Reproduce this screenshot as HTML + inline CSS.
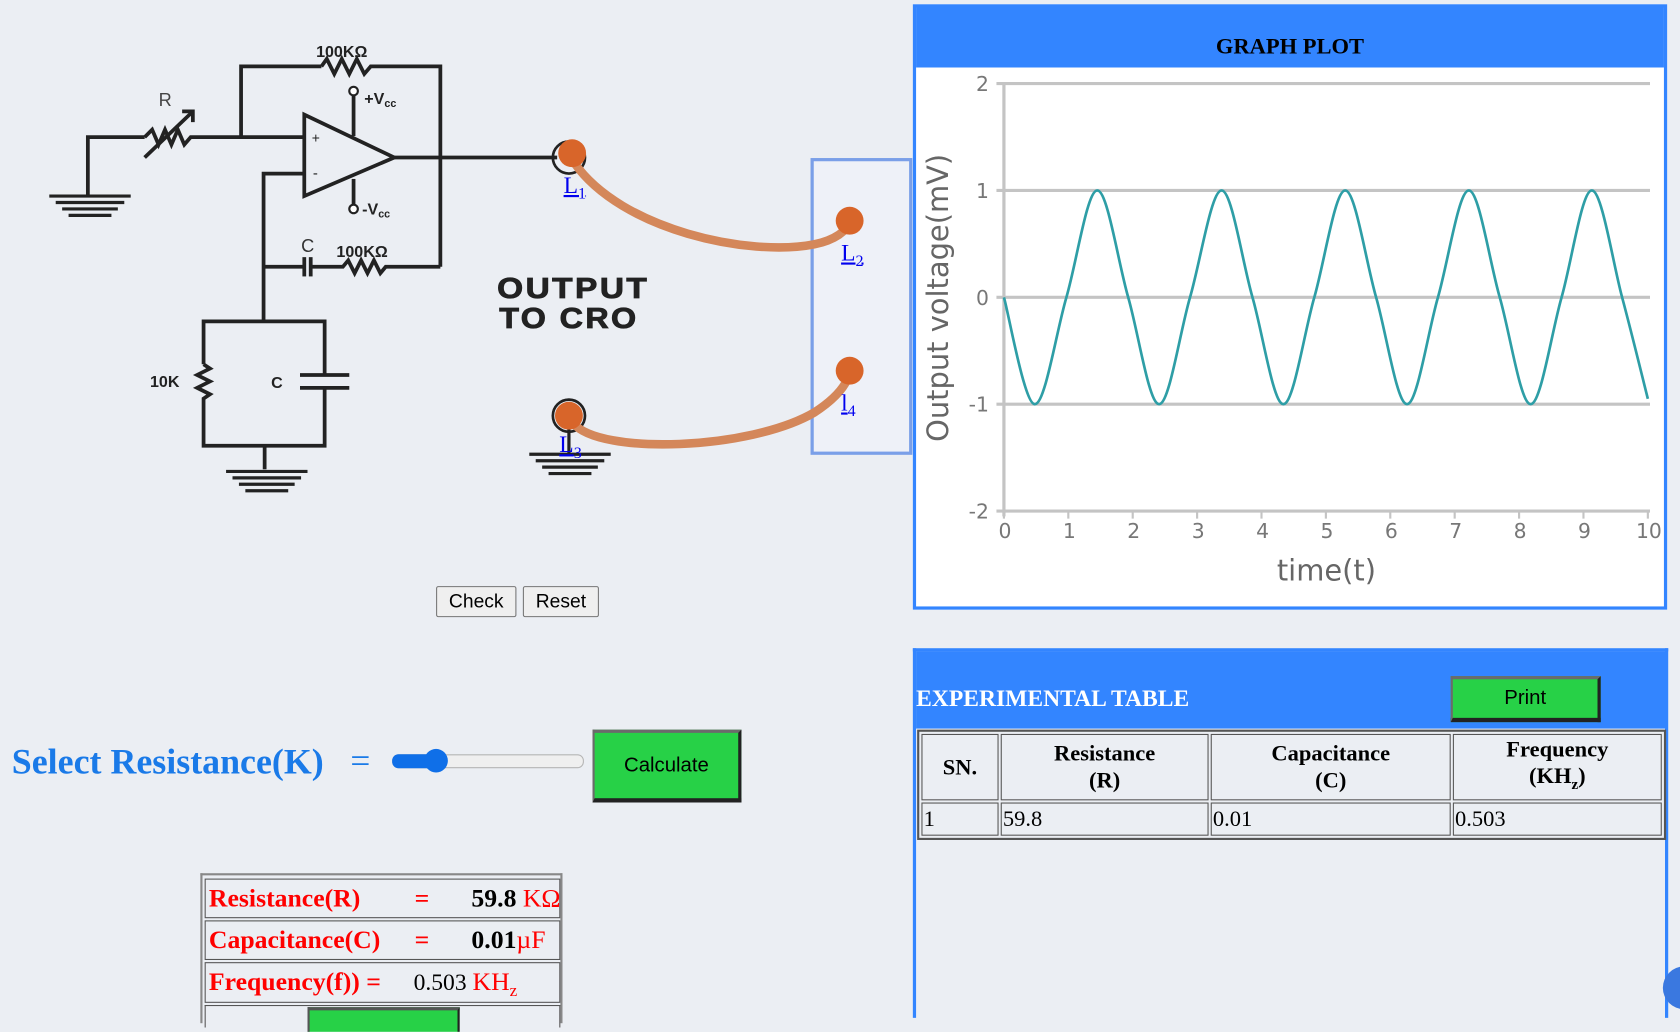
<!DOCTYPE html>
<html><head><meta charset="utf-8">
<style>
html,body{margin:0;padding:0;width:1680px;height:1014px;overflow:hidden;background:#ebeef3;}
#wrap{position:absolute;left:0;top:0;width:1568px;height:946px;transform:scale(1.07143);transform-origin:0 0;font-family:"Liberation Serif",serif;}
.abs{position:absolute;}
.btn{position:absolute;background:#efefef;border:1px solid #767676;border-radius:2px;font-family:"Liberation Sans",sans-serif;font-size:18px;text-align:center;box-sizing:border-box;line-height:27px;}
.green{position:absolute;background:#27d147;border-top:3px solid #6b6b6b;border-left:2px solid #6b6b6b;border-right:3px solid #222;border-bottom:4px solid #222;box-sizing:border-box;font-family:"Liberation Sans",sans-serif;font-size:19px;text-align:center;}
.lbl{position:absolute;color:#0000ee;text-decoration:underline;font-size:22px;font-family:"Liberation Serif",serif;}
.lbl sub{font-size:15px;}
.row{position:absolute;left:2px;width:330px;border:1px solid #555;color:red;font-weight:bold;font-size:24px;line-height:36px;white-space:nowrap;overflow:hidden;}
table{border-collapse:separate;}
</style></head><body>
<div id="wrap">

<svg class="abs" style="left:0;top:0" width="860" height="480">
<g stroke="#222" stroke-width="3.5" fill="none">
<polyline points="82,182 82,128 135,128"/>
<polyline points="135,128 142,121 148,135 154,121 160,135 166,121 172,135 178,128 284,128"/>
<line x1="135" y1="147" x2="180" y2="104"/><polyline points="170,104 180,104 180,114"/>
<polyline points="225,128 225,62 300,62"/>
<polyline points="300,62 305,55 312,69 319,55 326,69 333,55 340,69 346,62 411,62 411,249"/>
<polygon points="284,107 284,183 368,147"/>
<line x1="368" y1="147" x2="520" y2="147"/>
<line x1="330" y1="88" x2="330" y2="127"/><line x1="330" y1="167" x2="330" y2="192"/>
<polyline points="284,162 246,162 246,300"/>
<polyline points="246,249 284,249"/><line x1="284" y1="240" x2="284" y2="258"/><line x1="290" y1="240" x2="290" y2="258"/>
<polyline points="290,249 320,249 325,243 331,255 337,243 343,255 349,243 355,255 360,249 411,249"/>
<polyline points="190,340 190,300 303,300 303,350"/>
<polyline points="190,340 196,344 184,350 196,356 184,362 196,368 190,372 190,416 303,416 303,362"/>
<line x1="280" y1="350" x2="326" y2="350"/><line x1="280" y1="362" x2="326" y2="362"/>
<line x1="247" y1="416" x2="247" y2="438"/>
</g>
<g stroke="#222" stroke-width="3">
<line x1="46" y1="183" x2="122" y2="183"/><line x1="52" y1="189" x2="116" y2="189"/><line x1="58" y1="195" x2="110" y2="195"/><line x1="64" y1="201" x2="104" y2="201"/>
<line x1="211" y1="440" x2="287" y2="440"/><line x1="217" y1="446" x2="281" y2="446"/><line x1="223" y1="452" x2="275" y2="452"/><line x1="229" y1="458" x2="269" y2="458"/>
<line x1="494" y1="424" x2="570" y2="424"/><line x1="500" y1="430" x2="564" y2="430"/><line x1="506" y1="436" x2="558" y2="436"/><line x1="512" y1="442" x2="552" y2="442"/>
<line x1="531" y1="395" x2="531" y2="424"/>
</g>
<circle cx="330" cy="85" r="4" fill="#fff" stroke="#222" stroke-width="2"/>
<circle cx="330" cy="195" r="4" fill="#fff" stroke="#222" stroke-width="2"/>
<g font-family="Liberation Sans, sans-serif" font-weight="bold" fill="#222" font-size="15">
<text x="295" y="53">100KΩ</text><text x="314" y="240">100KΩ</text>
<text x="340" y="97">+V<tspan font-size="10" dy="3">cc</tspan></text>
<text x="338" y="200">-V<tspan font-size="10" dy="3">cc</tspan></text>
<text x="140" y="361">10K</text><text x="253" y="362">C</text>
</g>
<text x="148" y="99" font-family="Liberation Sans, sans-serif" font-size="17" fill="#444">R</text>
<text x="281" y="235" font-family="Liberation Sans, sans-serif" font-size="17" fill="#333">C</text>
<text x="291" y="133" font-family="Liberation Sans, sans-serif" font-size="13" fill="#222">+</text>
<text x="292" y="166" font-family="Liberation Sans, sans-serif" font-size="14" fill="#222">-</text>
<g font-family="Liberation Sans, sans-serif" font-weight="bold" font-size="27" fill="#222" stroke="#222" stroke-width="0.8" letter-spacing="2">
<text x="464" y="278" textLength="142" lengthAdjust="spacingAndGlyphs">OUTPUT</text><text x="466" y="306" textLength="130" lengthAdjust="spacingAndGlyphs">TO CRO</text></g>
<rect x="758" y="149" width="92" height="274" fill="#eef1f8" stroke="#7a9fe8" stroke-width="3"/>
<circle cx="531" cy="147" r="15" fill="none" stroke="#222" stroke-width="2.5"/>
<circle cx="531" cy="388" r="15" fill="none" stroke="#222" stroke-width="2.5"/>
<path d="M536,152 C580,215 700,240 760,228 C780,224 790,215 793,208" stroke="#d4875a" stroke-width="8" fill="none" stroke-linecap="round"/>
<path d="M535,395 C560,425 700,420 760,385 C780,372 790,360 793,348" stroke="#d4875a" stroke-width="8" fill="none" stroke-linecap="round"/>
<circle cx="534" cy="143" r="13" fill="#d8652a"/>
<circle cx="793" cy="206" r="13" fill="#d8652a"/>
<circle cx="793" cy="346" r="13" fill="#d8652a"/>
<circle cx="531" cy="388" r="13" fill="#d8652a"/>
</svg>
<div class="lbl" style="left:526px;top:160px">L<sub>1</sub></div>
<div class="lbl" style="left:785px;top:223px">L<sub>2</sub></div>
<div class="lbl" style="left:785px;top:363px">l<sub>4</sub></div>
<div class="lbl" style="left:522px;top:402px">L<sub>3</sub></div>

<div class="btn" style="left:407px;top:547px;width:75px;height:29px">Check</div>
<div class="btn" style="left:488px;top:547px;width:71px;height:29px">Reset</div>

<div class="abs" style="left:852px;top:4px;width:704px;height:565px;border:3px solid #3385ff;box-sizing:border-box;background:#fff">
<div style="height:56px;background:#3385ff;text-align:center;font-weight:bold;font-size:21px;line-height:20px;padding-top:26px;box-sizing:border-box">GRAPH PLOT</div>
</div>
<svg id="chart" class="abs" style="left:852px;top:60px" width="704" height="506"></svg>

<div class="abs" style="left:11px;top:693px;color:#1a7ae8;font-weight:bold;font-size:33.5px;white-space:nowrap">Select Resistance(K)</div>
<div class="abs" style="left:327px;top:693px;color:#1a7ae8;font-size:33px">=</div>
<div class="abs" style="left:366px;top:704px;width:177px;height:11px;background:#efefef;border:1px solid #b5b5b5;border-radius:6px">
<div style="position:absolute;left:-1px;top:-1px;width:44px;height:13px;background:#0f6fe8;border-radius:6px"></div>
<div style="position:absolute;left:29px;top:-6px;width:22px;height:22px;background:#0f6fe8;border-radius:50%"></div></div>
<div class="green" style="left:553px;top:681px;width:139px;height:68px;line-height:62px">Calculate</div>

<div class="abs" style="left:187px;top:815px;width:338px;height:140px;border:2px solid #888;border-bottom:none;box-sizing:border-box">
<div class="row" style="top:3px;height:35px"><span style="position:absolute;left:3px">Resistance(R)</span><span style="position:absolute;left:195px">=</span><span style="position:absolute;left:248px;color:#000">59.8 <span style="color:red;font-weight:normal">KΩ</span></span></div>
<div class="row" style="top:42px;height:35px"><span style="position:absolute;left:3px">Capacitance(C)</span><span style="position:absolute;left:195px">=</span><span style="position:absolute;left:248px;color:#000">0.01<span style="color:red;font-weight:normal">µF</span></span></div>
<div class="row" style="top:81px;height:36px"><span style="position:absolute;left:3px">Frequency(f)) =</span><span style="position:absolute;left:194px;color:#000;font-weight:normal;font-size:22px">0.503 <span style="color:red;font-size:24px">KH<sub style="font-size:16px">z</sub></span></span></div>
<div class="abs" style="left:2px;top:121px;width:330px;height:20px;border:1px solid #555;border-bottom:none"></div>
<div class="abs" style="left:98px;top:123px;width:138px;height:20px;background:#27d147;border-top:3px solid #555;border-left:2px solid #555;border-right:2px solid #222"></div>
</div>

<div class="abs" style="left:852px;top:605px;width:705px;height:345px;border:3px solid #3385ff;border-bottom:none;box-sizing:border-box;background:#ebeef3">
<div style="height:72px;background:#3385ff;position:relative">
<div class="abs" style="left:0;top:31px;color:#fff;font-weight:bold;font-size:22px;white-space:nowrap">EXPERIMENTAL TABLE</div>
<div class="green" style="left:499px;top:23px;width:140px;height:43px;line-height:36px">Print</div>
</div>
<table class="abs" style="left:1px;top:73px;width:699px;border:2px solid #555;border-spacing:2px;font-size:21px">
<tr style="height:60px;font-weight:bold;text-align:center;line-height:25px">
<td style="border:1px solid #555;width:68px">SN.</td><td style="border:1px solid #555;width:190px">Resistance<br>(R)</td><td style="border:1px solid #555;width:220px">Capacitance<br>(C)</td><td style="border:1px solid #555">Frequency<br>(KH<sub style="font-size:14px">z</sub>)</td></tr>
<tr style="height:31px"><td style="border:1px solid #555">1</td><td style="border:1px solid #555">59.8</td><td style="border:1px solid #555">0.01</td><td style="border:1px solid #555">0.503</td></tr>
</table>
</div>
<div class="abs" style="left:1552px;top:902px;width:40px;height:40px;border-radius:50%;background:#3a78e0"></div>
</div>

<script>
const xTicks=[0,1,2,3,4,5,6,7,8,9,10];
const yTicks=[2,1,0,-1,-2];
const times=[0,0.48,0.97,1.45,1.93,2.41,2.89,3.38,3.86,4.34,4.82,5.3,5.78,6.26,6.74,7.22,7.7,8.18,8.66,9.13,9.6,10];
const volts=[0,-1,0,1,0,-1,0,1,0,-1,0,1,0,-1,0,1,0,-1,0,1,0,-0.95];
const svg=document.getElementById('chart');
const NS='http://www.w3.org/2000/svg';
const X0=937-852,X1=1538-852,Y2=78-60,Ym2=477-60;
const xs=t=>X0+(X1-X0)*t/10;
const ys=v=>Y2+(Ym2-Y2)*(2-v)/4;
function mk(tag,attrs){const e=document.createElementNS(NS,tag);for(const k in attrs)e.setAttribute(k,attrs[k]);svg.appendChild(e);return e;}
yTicks.forEach(v=>{
 const g=mk('line',{x1:X0-7,x2:X1+2,y1:ys(v),y2:ys(v),stroke:'#c4c4c4','stroke-width':3});
 
 
 const t=mk('text',{x:X0-14,y:ys(v)+7,'text-anchor':'end','font-size':19,fill:'#777','font-family':'DejaVu Sans, sans-serif'});
 t.textContent=v;
 
 
});
const ax=mk('line',{x1:X0,x2:X0,y1:Y2,y2:Ym2+5,stroke:'#c4c4c4','stroke-width':3});


xTicks.forEach(v=>{
 const l=mk('line',{x1:xs(v),x2:xs(v),y1:Ym2,y2:Ym2+7,stroke:'#c4c4c4','stroke-width':2});
 
 
 const t=mk('text',{x:xs(v)+1,y:Ym2+25,'text-anchor':'middle','font-size':19,fill:'#777','font-family':'DejaVu Sans, sans-serif'});
 t.textContent=v;
 
 
});
const pts=times.map((t,i)=>[xs(t),ys(volts[i])]);
let d='M'+pts[0][0]+','+pts[0][1];
for(let i=0;i<pts.length-1;i++){
 const p0=pts[Math.max(0,i-1)],p1=pts[i],p2=pts[i+1],p3=pts[Math.min(pts.length-1,i+2)];
 const c1x=p1[0]+(p2[0]-p0[0])/6,c1y=p1[1]+(p2[1]-p0[1])/6,c2x=p2[0]-(p3[0]-p1[0])/6,c2y=p2[1]-(p3[1]-p1[1])/6;
 d+=` C${c1x},${c1y} ${c2x},${c2y} ${p2[0]},${p2[1]}`;
}
const line=mk('path',{d:d,fill:'none',stroke:'#2e9ea6','stroke-width':2.5});


const xt=mk('text',{x:386,y:482,'text-anchor':'middle','font-size':27,fill:'#666','font-family':'DejaVu Sans, sans-serif'});
xt.textContent='time(t)';


const yt=mk('text',{x:0,y:0,'text-anchor':'middle','font-size':27,fill:'#666','font-family':'DejaVu Sans, sans-serif',transform:'translate(33,218) rotate(-90)'});
yt.textContent='Output voltage(mV)';


</script>
</body></html>
